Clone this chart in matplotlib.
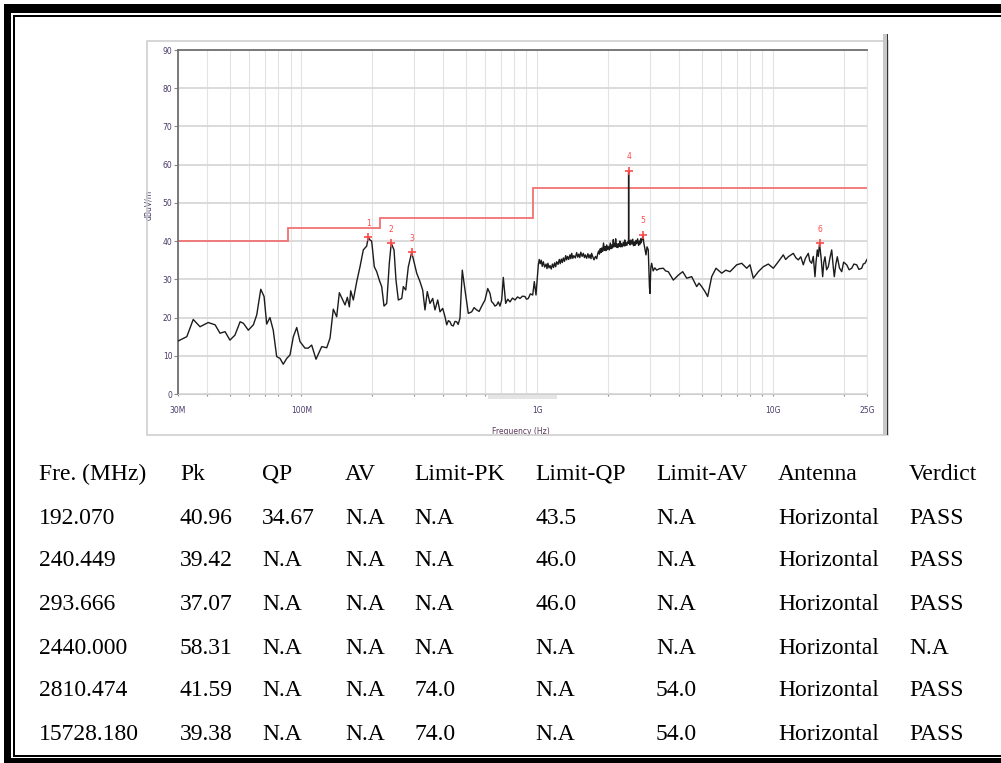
import numpy as np
import matplotlib
matplotlib.use('Agg')
import matplotlib.pyplot as plt
from matplotlib.patches import Rectangle

W, H = 1001, 763

# measured trace (MHz, dBuV/m), read off the scan
# 30 MHz .. 1 GHz
freq_low = [30.1, 32.7, 34.8, 37.2, 40.3, 43.1, 45.2, 47.5, 49.8, 52.3, 55.0, 56.8, 59.6,
            62.6, 64.7, 67.3, 69.5, 71.3, 73.6, 76.0, 78.6, 81.2, 83.8, 86.7, 89.5, 92.5,
            95.6, 98.7, 103.6, 107.0, 110.6, 115.4, 122.0, 128.1, 132.3, 136.6, 141.2,
            144.9, 149.8, 153.2, 156.7, 159.8, 161.9, 166.1, 171.7, 177.3, 183.1, 189.2,
            192.07, 195.5, 198.7, 203.8, 208.7, 214.0, 219.1, 224.1, 230.1, 236.0, 240.449,
            247.1, 251.9, 257.7, 266.4, 270.6, 277.0, 284.1, 293.666, 300.3, 308.4, 318.4,
            326.9, 334.3, 341.9, 351.1, 360.5, 368.6, 378.5, 387.1, 397.5, 406.5, 413.2,
            420.0, 426.7, 433.0, 440.6, 448.0, 455.4, 462.0, 470.3, 481.1, 494.0, 510.2,
            527.4, 540.0, 553.8, 567.0, 581.6, 600.6, 616.6, 630.7, 640.0, 651.4, 662.0,
            673.2, 684.0, 695.2, 706.8, 718.0, 734.9, 750.0, 766.6, 785.0, 804.9, 825.0,
            845.2, 866.0, 887.4, 900.0, 916.6, 935.0, 956.7, 971.8, 988.1, 1010.6]
level_low = [13.9, 15.0, 19.5, 17.6, 18.7, 18.1, 15.9, 16.3, 14.1, 15.4, 18.9, 18.5, 16.7,
             18.1, 20.7, 27.4, 25.5, 18.3, 20.0, 16.7, 9.8, 9.3, 7.8, 9.3, 10.2, 15.0,
             17.4, 13.7, 12.0, 12.0, 12.8, 9.1, 12.4, 12.1, 14.6, 22.2, 20.2,
             26.5, 24.6, 23.3, 25.3, 22.8, 27.0, 24.6, 29.4, 33.3, 37.7, 38.7,
             40.96, 40.3, 40.0, 33.3, 32.0, 29.8, 28.1, 23.0, 23.7, 34.2, 39.42,
             37.7, 29.8, 24.6, 25.0, 28.1, 27.2, 33.3, 37.07, 34.6, 31.6, 29.4,
             27.2, 22.0, 26.8, 23.7, 25.0, 22.0, 24.6, 21.5, 22.4, 20.2, 18.1,
             19.2, 18.9, 18.0, 17.8, 19.0, 18.9, 18.2, 19.8, 32.4, 27.2, 21.1,
             21.5, 22.6, 22.0, 21.6, 23.0, 24.6, 27.6, 26.3, 24.2, 23.7, 23.0,
             23.3, 24.1, 23.0, 24.6, 30.5, 23.7, 24.8, 24.1, 25.1, 24.6, 25.4,
             25.0, 25.6, 25.5, 24.8, 25.0, 26.2, 25.9, 29.4, 25.9, 33.8]

# 1 GHz .. 2.95 GHz, the dense part of the trace, as (MHz, dB) pairs
band_mid = [(1020, 35.2), (1030, 34.1), (1040, 35.0), (1050, 33.4), (1061, 34.6),
            (1075, 33.2), (1090, 34.0), (1100, 32.8), (1110, 34.2), (1122, 33.0),
            (1133, 33.6), (1146, 32.7), (1160, 34.0), (1172, 33.1), (1185, 34.3),
            (1197, 33.3), (1209, 34.6), (1225, 33.9), (1240, 35.2), (1252, 34.1),
            (1265, 35.3), (1278, 34.4), (1290, 35.6), (1305, 34.7), (1320, 36.2),
            (1332, 35.1), (1345, 36.0), (1360, 35.2), (1376, 36.4), (1388, 35.4),
            (1400, 36.8), (1415, 35.5), (1430, 36.2), (1450, 35.6), (1469, 37.0),
            (1485, 35.8), (1500, 36.6), (1515, 35.7), (1530, 37.1), (1550, 36.0),
            (1568, 36.8), (1585, 35.7), (1600, 36.4), (1620, 35.5), (1640, 36.7),
            (1657, 35.6), (1674, 36.4), (1690, 35.4), (1700, 36.8), (1720, 35.9),
            (1740, 35.1), (1765, 36.0), (1787, 35.4), (1805, 36.7), (1820, 37.4),
            (1835, 36.6), (1850, 38.0), (1863, 37.0), (1876, 38.2), (1893, 37.3),
            (1910, 39.5), (1925, 37.6), (1940, 38.6), (1955, 37.5), (1970, 39.0),
            (1985, 37.8), (2000, 38.6), (2020, 37.7), (2040, 39.5), (2055, 38.0),
            (2070, 39.0), (2085, 38.2), (2101, 40.4), (2115, 38.5), (2130, 39.4),
            (2140, 38.6), (2150, 40.6), (2165, 38.4), (2180, 39.2), (2195, 38.3),
            (2206, 39.3), (2225, 38.6), (2240, 40.0), (2255, 38.5), (2270, 39.4),
            (2290, 38.5), (2317, 39.7), (2335, 38.7), (2350, 40.3), (2365, 38.8),
            (2380, 39.6), (2400, 38.9), (2418, 39.8), (2438, 39.5), (2440, 58.31),
            (2442, 39.4), (2457, 40.0), (2473, 39.0), (2495, 40.3), (2520, 39.2),
            (2540, 40.5), (2560, 38.8), (2580, 39.8), (2597, 38.9), (2620, 40.2),
            (2640, 39.3), (2665, 40.6), (2690, 38.9), (2710, 40.0), (2727, 39.2),
            (2745, 40.6), (2760, 39.6), (2790, 40.8), (2810.474, 41.59), (2825, 39.8),
            (2840, 39.0), (2870, 37.5), (2891, 36.4), (2920, 38.5), (2956, 37.7)]

# 2.95 GHz .. 25 GHz
freq_high = [2990, 3006, 3030, 3056, 3100, 3150, 3208, 3300, 3423, 3500, 3594, 3774,
             3963, 4137, 4302, 4516, 4742, 4850, 4979, 5142, 5279, 5490, 5726, 6054, 6300,
             6563, 7008, 7358, 7727, 7979, 8240, 8652, 9084, 9539, 10016, 10517, 11043,
             11300, 11595, 12175, 12500, 12785, 13100, 13424, 13700, 14095, 14300, 14570,
             14800, 15048, 15200, 15391, 15550, 15728.18, 15955, 16221, 16400, 16591, 16850,
             17136, 17400, 17713, 18000, 18168, 18450, 18708, 19100, 19531, 19900, 20507,
             21000, 21532, 22000, 22609, 23100, 23738, 24100, 24516, 25000]
level_high = [28.0, 26.3, 33.0, 34.2, 32.2, 33.0, 32.4, 32.8, 32.9, 32.2, 32.0, 29.8,
              31.1, 32.0, 30.3, 30.7, 28.1, 29.0, 28.1, 26.8, 25.5, 30.7, 32.9, 31.6, 32.4,
              32.0, 33.8, 34.2, 32.9, 33.8, 30.3, 32.0, 33.3, 34.0, 32.9, 34.6, 36.4,
              35.2, 35.9, 36.8, 35.6, 35.1, 35.9, 33.8, 35.5, 36.8, 34.8, 34.2,
              36.0, 30.7, 34.5, 37.7, 36.0, 39.38, 35.9, 30.7, 34.5, 35.9, 32.5,
              33.3, 35.5, 37.7, 33.0, 30.7, 34.0, 35.9, 33.0, 32.0, 34.5, 33.8,
              32.5, 32.9, 34.0, 33.8, 32.6, 32.9, 34.0, 34.2, 35.2]

# limit line
limit_edges = [30, 88, 216, 960, 25000]
limit_levels = [40, 43.5, 46, 54]

# marked peaks
pk_freq = [192.07, 240.449, 293.666, 2440.0, 2810.474, 15728.18]
pk_level = [40.96, 39.42, 37.07, 58.31, 41.59, 39.38]
pk_names = ['1', '2', '3', '4', '5', '6']

xtick_vals = [30, 100, 1000, 10000, 25000]
xtick_labels = ['30M', '100M', '1G', '10G', '25G']
xminor = [40, 50, 60, 70, 80, 90, 200, 300, 400, 500, 600, 700, 800, 900,
          2000, 3000, 4000, 5000, 6000, 7000, 8000, 9000, 20000]

# result table
headers = ['Fre. (MHz)', 'Pk', 'QP', 'AV', 'Limit-PK', 'Limit-QP', 'Limit-AV', 'Antenna', 'Verdict']
col_fre = ['192.070', '240.449', '293.666', '2440.000', '2810.474', '15728.180']
col_pk = ['40.96', '39.42', '37.07', '58.31', '41.59', '39.38']
col_qp = ['34.67', 'N.A', 'N.A', 'N.A', 'N.A', 'N.A']
col_av = ['N.A', 'N.A', 'N.A', 'N.A', 'N.A', 'N.A']
col_lpk = ['N.A', 'N.A', 'N.A', 'N.A', '74.0', '74.0']
col_lqp = ['43.5', '46.0', '46.0', 'N.A', 'N.A', 'N.A']
col_lav = ['N.A', 'N.A', 'N.A', 'N.A', '54.0', '54.0']
col_ant = ['Horizontal'] * 6
col_verdict = ['PASS', 'PASS', 'PASS', 'N.A', 'PASS', 'PASS']

freq = freq_low + [p[0] for p in band_mid] + freq_high
level = level_low + [p[1] for p in band_mid] + level_high


def fx(x):
    return x / W


def fy(y):
    return 1 - y / H


fig = plt.figure(figsize=(W / 100, H / 100), dpi=100)
fig.patch.set_facecolor('white')

# outer frame of the report page
def box(x0, y0, x1, y1, color, **kw):
    fig.add_artist(Rectangle((fx(x0), fy(y1)), fx(x1) - fx(x0), fy(y0) - fy(y1),
                             transform=fig.transFigure, facecolor=color,
                             edgecolor='none', **kw))

box(4, 4, W, 13, 'black')
box(4, 4, 11, H, 'black')
box(13, 14.5, W, 16.5, 'black')
box(13, 14.5, 15, 757, 'black')
box(13, 755, W, 757, 'black')
box(4, 758, W, H, 'black')

# chart frame
fig.add_artist(Rectangle((fx(147), fy(435)), fx(888) - fx(147), fy(41) - fy(435),
                         transform=fig.transFigure, facecolor='none',
                         edgecolor='#cfcfcf', lw=1.2))
box(883, 34, 888, 435, '#c8c8c8')
box(886.5, 34, 888, 435, '#333333')
box(488, 395, 557, 399, '#e4e4e4', zorder=5)

ax = fig.add_axes([fx(178), fy(394), fx(867) - fx(178), fy(50) - fy(394)])
ax.set_xscale('log')
ax.set_xlim(30, 25000)
ax.set_ylim(0, 90)

ax.set_xticks(xtick_vals)
ax.set_xticklabels(xtick_labels)
ax.set_xticks(xminor, minor=True)
ax.xaxis.set_minor_formatter(matplotlib.ticker.NullFormatter())
ax.set_yticks(range(0, 91, 10))

for v in xtick_vals + xminor:
    ax.axvline(v, color='#e3e3e3', lw=0.8, zorder=0)
for v in range(0, 91, 10):
    ax.axhline(v, color='#dadada', lw=1.4, zorder=0)

ax.tick_params(axis='x', which='both', length=1.5, width=0.8, color='#888888',
               labelsize=5.5, labelcolor='#4a3a6a', pad=7)
ax.tick_params(axis='y', length=3, width=0.8, color='#888888',
               labelsize=5.5, labelcolor='#4a3a6a', pad=1)

for s in ['left', 'top']:
    ax.spines[s].set_color('#707070')
    ax.spines[s].set_linewidth(1.3)
ax.spines['bottom'].set_color('#d0d0d0')
ax.spines['right'].set_color('#e3e3e3')

ax.stairs(limit_levels, limit_edges, baseline=None, color='#f07272', lw=1.3, zorder=2)
ax.plot(freq, level, color='#1c1c1c', lw=1.0, zorder=3)
ax.plot(pk_freq, pk_level, '+', color='#ff4a4a', ms=5.5, mew=1.2, zorder=4)
for f, l, n in zip(pk_freq, pk_level, pk_names):
    ax.annotate(n, (f, l), xytext=(0, 7), textcoords='offset points',
                ha='center', va='bottom', fontsize=5.5, color='#ff4a4a')

ax.set_ylabel('dBuV/m', fontsize=5.5, color='#4a3a6a')
ax.yaxis.set_label_coords(-(178 - 153) / 689, 0.55)
ax.set_xlabel('Frequency (Hz)', fontsize=5.5, color='#5a3a5a')
ax.xaxis.set_label_coords(0.498, -0.096)

# table under the chart
col_x = [39, 180, 262, 345, 414, 535, 656, 778, 909]
row_y = [474, 518, 561, 604, 648, 691, 735]
columns = [col_fre, col_pk, col_qp, col_av, col_lpk, col_lqp, col_lav, col_ant, col_verdict]
for cx, head, col in zip(col_x, headers, columns):
    fig.text(fx(cx), fy(row_y[0]), head, ha='left', va='center',
             family='Liberation Serif', fontsize=17)
    for ry, txt in zip(row_y[1:], col):
        fig.text(fx(cx), fy(ry), txt, ha='left', va='center',
                 family='Liberation Serif', fontsize=17)

fig.savefig('out.png', dpi=100)
